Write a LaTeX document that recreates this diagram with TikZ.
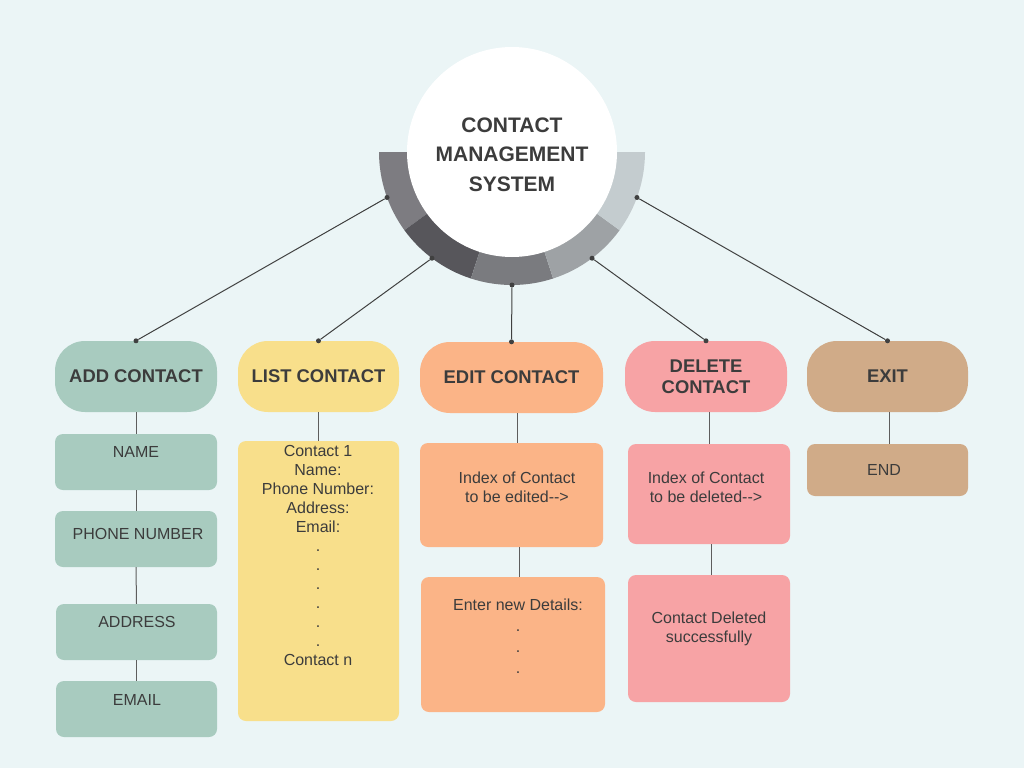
\documentclass[tikz,border=0pt]{standalone}
\usepackage{fontspec}
\setmainfont{Liberation Sans}
\usetikzlibrary{calc}

\definecolor{bgblue}{HTML}{EBF5F6}
\definecolor{ringA}{HTML}{7D7C81}
\definecolor{ringB}{HTML}{57565B}
\definecolor{ringC}{HTML}{7A7B7F}
\definecolor{ringD}{HTML}{9EA2A5}
\definecolor{ringE}{HTML}{C4CCCF}
\definecolor{addgreen}{HTML}{A8CBBF}
\definecolor{listyellow}{HTML}{F8DF8B}
\definecolor{editorange}{HTML}{FBB487}
\definecolor{delpink}{HTML}{F7A3A5}
\definecolor{exittan}{HTML}{D0AB88}
\definecolor{inkgray}{HTML}{3C3C3C}
\definecolor{linkgray}{HTML}{404040}

\begin{document}
\begin{tikzpicture}[x=1pt,y=-1pt]

      \tikzset{head/.style={rounded corners=30pt, minimum height=71pt, inner sep=0pt, text=inkgray, align=center, font=\bfseries\fontsize{18.4}{21}\selectfont},
        sub/.style={rounded corners=8pt, inner sep=0pt},
        txt/.style={anchor=north, inner sep=0pt, text=inkgray, align=center, font=\fontsize{16}{19}\selectfont},
        dot/.style={circle, fill=linkgray, inner sep=0pt, minimum size=5pt},
        link/.style={draw=linkgray, line width=1pt},
        stem/.style={draw=linkgray!85, line width=1pt}}
      \fill[bgblue] (0,0) rectangle (1024,768);
      \useasboundingbox (0,0) rectangle (1024,768);
%% Ring
      	\coordinate (c) at (512,152);
      	\fill[ringA] ($(c)+(180:133pt)$) arc[start angle=180, end angle=216, radius=133pt] -- ($(c)+(216:100pt)$) arc[start angle=216, end angle=180, radius=100pt] -- cycle;
      	\fill[ringB] ($(c)+(216:133pt)$) arc[start angle=216, end angle=252, radius=133pt] -- ($(c)+(252:100pt)$) arc[start angle=252, end angle=216, radius=100pt] -- cycle;
      	\fill[ringC] ($(c)+(252:133pt)$) arc[start angle=252, end angle=288, radius=133pt] -- ($(c)+(288:100pt)$) arc[start angle=288, end angle=252, radius=100pt] -- cycle;
      	\fill[ringD] ($(c)+(288:133pt)$) arc[start angle=288, end angle=324, radius=133pt] -- ($(c)+(324:100pt)$) arc[start angle=324, end angle=288, radius=100pt] -- cycle;
      	\fill[ringE] ($(c)+(324:133pt)$) arc[start angle=324, end angle=360, radius=133pt] -- ($(c)+(360:100pt)$) arc[start angle=360, end angle=324, radius=100pt] -- cycle;
      	\node[circle, fill=white, minimum size=210pt, inner sep=0pt] (sys) at (c) {};
      	\node[inner sep=0pt, text=inkgray, align=center, font=\bfseries\fontsize{21}{29.5}\selectfont] (title) at (512,154.5) {CONTACT\\MANAGEMENT\\SYSTEM};
%% Menu
      	\node[head, fill=addgreen, minimum width=162pt] (add) at (136,376.5) {ADD CONTACT};
      	\node[head, fill=listyellow, minimum width=161pt] (list) at (318.5,376.5) {LIST CONTACT};
      	\node[head, fill=editorange, minimum width=183pt] (edit) at (511.5,377.5) {EDIT CONTACT};
      	\node[head, fill=delpink, minimum width=162pt] (del) at (706,376.5) {DELETE\\CONTACT};
      	\node[head, fill=exittan, minimum width=161pt] (exit) at (887.5,376.5) {EXIT};
%% Steps
      	\node[sub, fill=addgreen, minimum width=162pt, minimum height=56pt] (name) at (136,462) {};
      	\node[sub, fill=addgreen, minimum width=162pt, minimum height=56pt] (phone) at (136,539) {};
      	\node[sub, fill=addgreen, minimum width=161pt, minimum height=56pt] (addr) at (136.5,632) {};
      	\node[sub, fill=addgreen, minimum width=161pt, minimum height=56pt] (email) at (136.5,709) {};
      	\node[sub, fill=listyellow, minimum width=161pt, minimum height=280pt] (all) at (318.5,581) {};
      	\node[sub, fill=editorange, minimum width=183pt, minimum height=104pt] (index1) at (511.5,495) {};
      	\node[sub, fill=editorange, minimum width=184pt, minimum height=135pt] (details) at (513,644.5) {};
      	\node[sub, fill=delpink, minimum width=162pt, minimum height=100pt] (index2) at (709,494) {};
      	\node[sub, fill=delpink, minimum width=162pt, minimum height=127pt] (done) at (709,638.5) {};
      	\node[sub, fill=exittan, minimum width=161pt, minimum height=52pt] (end) at (887.5,470) {};
%% Texts
      	\node[txt] (nameT) at (136,446.3) {NAME};
      	\node[txt] (phoneT) at (138,528.3) {PHONE NUMBER};
      	\node[txt] (addrT) at (137,616.3) {ADDRESS};
      	\node[txt] (emailT) at (137,694.3) {EMAIL};
      	\node[txt] (allT) at (318,444.8) {Contact 1\\Name:\\Phone Number:\\Address:\\Email:\\.\\.\\.\\.\\.\\.\\Contact n};
      	\node[txt] (index1T) at (517,471.3) {Index of Contact\\to be edited-{}-{}>};
      	\node[txt, font=\fontsize{16}{21}\selectfont] (detailsT) at (518,598.3) {Enter new Details:\\.\\.\\.};
      	\node[txt] (index2T) at (706,471.3) {Index of Contact\\to be deleted-{}-{}>};
      	\node[txt] (doneT) at (709,611.3) {Contact Deleted\\successfully};
      	\node[txt] (endT) at (884,464.3) {END};
%% Dots
      	\node[dot] (r1) at ($(sys.center)+(-160:133pt)$) {};
      	\node[dot] (r2) at ($(sys.center)+(-127:133pt)$) {};
      	\node[dot] (r3) at ($(sys.center)+(-90:133pt)$) {};
      	\node[dot] (r4) at ($(sys.center)+(-53:133pt)$) {};
      	\node[dot] (r5) at ($(sys.center)+(-20:133pt)$) {};
      	\node[dot] (t1) at (add.north) {};
      	\node[dot] (t2) at (list.north) {};
      	\node[dot] (t3) at (edit.north) {};
      	\node[dot] (t4) at (del.north) {};
      	\node[dot] (t5) at (exit.north) {};
%Edges
		\path[link] (r1) edge (t1);
		\path[link] (r2) edge (t2);
		\path[link] (r3) edge (t3);
		\path[link] (r4) edge (t4);
		\path[link] (r5) edge (t5);
		\path[stem] (add.south) edge (name.north);
		\path[stem] (name.south) edge (phone.north);
		\path[stem] (phone.south) edge (addr.north);
		\path[stem] (addr.south) edge (email.north);
		\path[stem] (list.south) edge (all.north);
		\path[stem] ([xshift=5.5pt]edit.south) edge ([xshift=5.5pt]index1.north);
		\path[stem] ([xshift=7.5pt]index1.south) edge ([xshift=6pt]details.north);
		\path[stem] (index2.north |- del.south) edge (index2.north);
		\path[stem] ([xshift=2pt]index2.south) edge ([xshift=2pt]done.north);
		\path[stem] ([xshift=1.5pt]exit.south) edge ([xshift=1.5pt]end.north);

	\end{tikzpicture}
\end{document}
